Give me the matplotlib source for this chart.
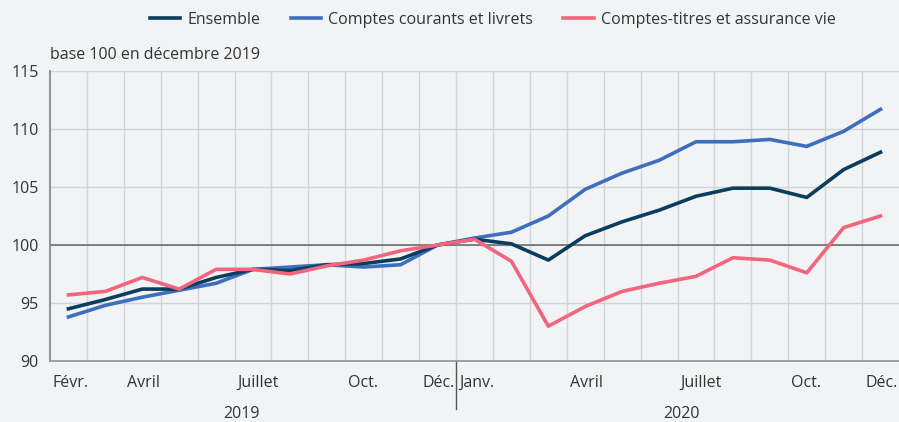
import matplotlib.pyplot as plt
import matplotlib.transforms as mtransforms
import numpy as np

plt.rcParams["font.family"] = ["Open Sans", "DejaVu Sans"]

# février 2019 -> décembre 2020, base 100 en décembre 2019
ensemble = [94.5, 95.3, 96.2, 96.2, 97.2, 97.9, 97.8, 98.3, 98.4, 98.8, 100.0,
            100.5, 100.1, 98.7, 100.8, 102.0, 103.0, 104.2, 104.9, 104.9, 104.1, 106.5, 108.0]
courants = [93.8, 94.8, 95.5, 96.1, 96.7, 97.9, 98.1, 98.3, 98.1, 98.3, 100.0,
            100.6, 101.1, 102.5, 104.8, 106.2, 107.3, 108.9, 108.9, 109.1, 108.5, 109.8, 111.7]
titres = [95.7, 96.0, 97.2, 96.2, 97.9, 97.9, 97.5, 98.2, 98.7, 99.5, 100.0,
          100.5, 98.6, 93.0, 94.7, 96.0, 96.7, 97.3, 98.9, 98.7, 97.6, 101.5, 102.5]

tick_pos = [0, 2, 5, 8, 10, 11, 14, 17, 20, 22]
tick_labels = ["Févr.", "Avril", "Juillet", "Oct.", "Déc.",
               "Janv.", "Avril", "Juillet", "Oct.", "Déc."]
years = ["2019", "2020"]

bg = "#f2f3f5"
txt = "#333333"
fs = 11.5

fig = plt.figure(figsize=(8.99, 4.22), dpi=100, facecolor=bg)
ax = fig.add_axes([50 / 899, 1 - 361 / 422, 849 / 899, 290 / 422], facecolor=bg)

x = np.arange(len(ensemble))
ax.plot(x, ensemble, color="#0b3d5c", lw=2.6, label="Ensemble", zorder=4)
ax.plot(x, courants, color="#3e6fbf", lw=2.6, label="Comptes courants et livrets", zorder=3)
ax.plot(x, titres, color="#f2657f", lw=2.6, label="Comptes-titres et assurance vie", zorder=5)

ax.set_xlim(-0.5, len(x) - 0.5)
ax.set_ylim(90, 115)
ax.set_yticks([90, 95, 100, 105, 110, 115])
ax.tick_params(axis="y", length=0, labelsize=fs, labelcolor=txt, pad=8)
ax.set_xticks([])

# grille : une bande par mois
for b in np.arange(0.5, len(x) - 0.5):
    ax.axvline(b, color="#d3d4d7", lw=1, zorder=1)
ax.grid(True, axis="y", color="#d3d4d7", lw=1, zorder=1)
ax.set_axisbelow(True)
ax.axhline(100, color="#777777", lw=1.3, zorder=2)

for s in ["top", "right"]:
    ax.spines[s].set_visible(False)
ax.spines["left"].set_color("#888888")
ax.spines["left"].set_linewidth(1.3)
ax.spines["bottom"].set_color("#999999")
ax.spines["bottom"].set_linewidth(1.3)

# libellés des mois, alignés à gauche de la bande
trans = mtransforms.blended_transform_factory(ax.transData, ax.transAxes)
offset = mtransforms.ScaledTranslation(3 / 100, 0, fig.dpi_scale_trans)
for p, lab in zip(tick_pos, tick_labels):
    ax.text(p - 0.5, -0.076, lab, transform=trans + offset, ha="left", va="center",
            fontsize=fs, color=txt)

# séparateur des années et libellés
ax.plot([10.5, 10.5], [0, -0.166], transform=trans, color="#555555", lw=1, clip_on=False)
ax.text(4.7, -0.184, years[0], transform=trans, ha="center", va="center", fontsize=fs, color=txt)
ax.text(16.6, -0.184, years[1], transform=trans, ha="center", va="center", fontsize=fs, color=txt)

fig.text(50 / 899, 1 - 55 / 422, "base 100 en décembre 2019", ha="left", va="center",
         fontsize=fs, color=txt)

fig.legend(loc="center", bbox_to_anchor=(0.548, 1 - 20 / 422), ncol=3, frameon=False,
           fontsize=fs, handlelength=1.9, handletextpad=0.45, columnspacing=1.9,
           labelcolor=txt)

fig.savefig("out.png", dpi=100, facecolor=bg)
